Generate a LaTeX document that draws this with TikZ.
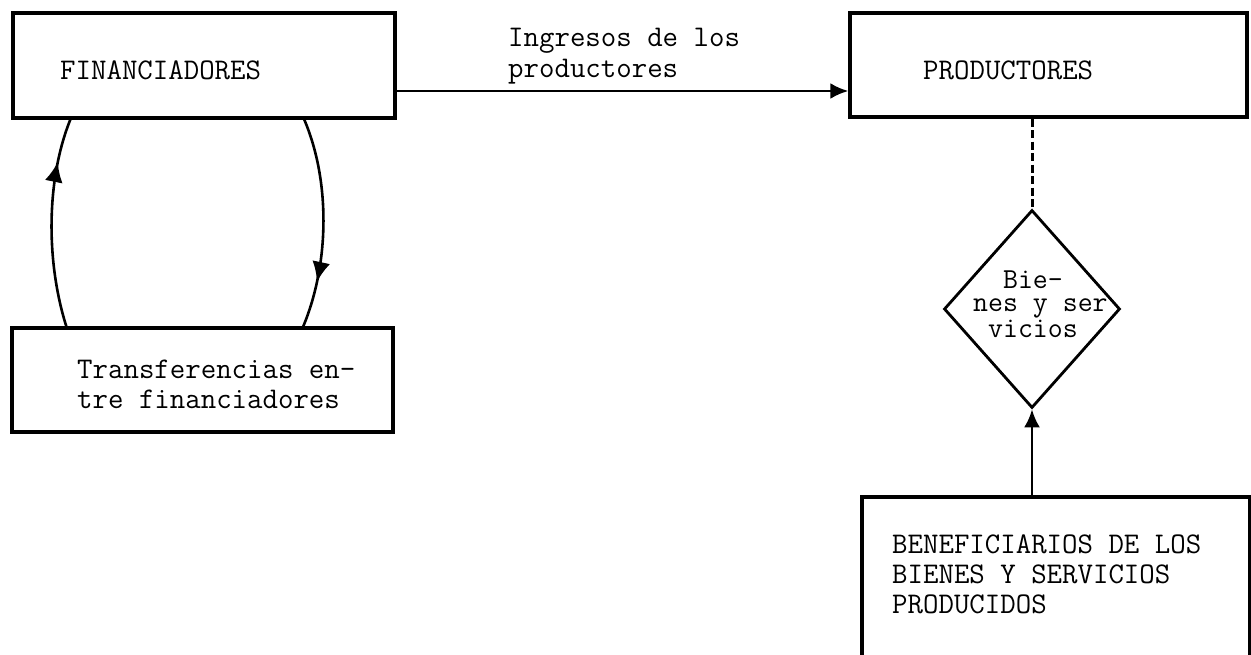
\documentclass[tikz,border=0pt]{standalone}
\usepackage{fontspec}
\usetikzlibrary{shapes.geometric,arrows.meta,decorations.markings,calc}
\tikzset{
  boxnode/.style={draw, line width=3.4pt, rectangle, inner sep=0pt},
  txt/.style={anchor=base west, inner sep=0pt, font=\ttfamily\fontsize{30}{31}\selectfont},
  conn/.style={line width=2.6pt},
  tip/.style={-{Latex[length=18pt,width=16pt]}},
  midup/.style={postaction={decorate}, decoration={markings, mark=at position #1 with {\arrow{Latex[length=20pt,width=18pt]}}}}
}
\begin{document}
\begin{tikzpicture}[x=1pt,y=-1pt]
\useasboundingbox (0,0) rectangle (1251,655);
\clip (0,0) rectangle (1251,655);
% boxes
\node[boxnode, minimum width=382pt, minimum height=105pt] (finan) at (204,65.5) {};
\node[boxnode, minimum width=397pt, minimum height=104pt] (prod) at (1048.5,65) {};
\node[boxnode, minimum width=381pt, minimum height=104pt] (trans) at (202.5,380) {};
\node[boxnode, minimum width=388pt, minimum height=203pt] (benef) at (1056,598.5) {};
\node[draw, diamond, line width=2.8pt, inner sep=0pt, minimum width=176pt, minimum height=198pt] (dia) at (1032,309) {};
% texts
\node[txt] (tfinan) at (60,80) {FINANCIADORES};
\node[txt] (tprod) at (923,80) {PRODUCTORES};
\node[txt, align=left] (ting) at (508,78) {Ingresos de los\\productores};
\node[txt, align=left, font=\ttfamily\fontsize{30}{30}\selectfont] (ttr) at (77,408) {Transferencias en-\\tre financiadores};
\node[txt, align=left, font=\ttfamily\fontsize{29}{23.5}\selectfont] (td) at (973,337) {\phantom{nn}Bie-\\nes y ser\\\phantom{n}vicios};
\node[txt, align=left, font=\ttfamily\fontsize{30}{30}\selectfont] (tb) at (892,613) {BENEFICIARIOS DE LOS\\BIENES Y SERVICIOS\\PRODUCIDOS};
% connectors
\draw[conn, tip] (finan.east |- 0,91) -- (prod.west |- 0,91);
\draw[conn, midup=0.79] ([xshift=56pt]trans.north west) .. controls (46,262) and (46,180) .. ([xshift=59pt]finan.south west);
\draw[conn, midup=0.78] ([xshift=293pt]finan.south west) .. controls (330,180) and (330,262) .. ([xshift=293pt]trans.north west);
\draw[line width=3pt, dash pattern=on 8pt off 3.5pt] (prod.south -| dia.north) -- (dia.north);
\draw[conn, tip] (benef.north -| dia.south) -- (dia.south);
\end{tikzpicture}
\end{document}
